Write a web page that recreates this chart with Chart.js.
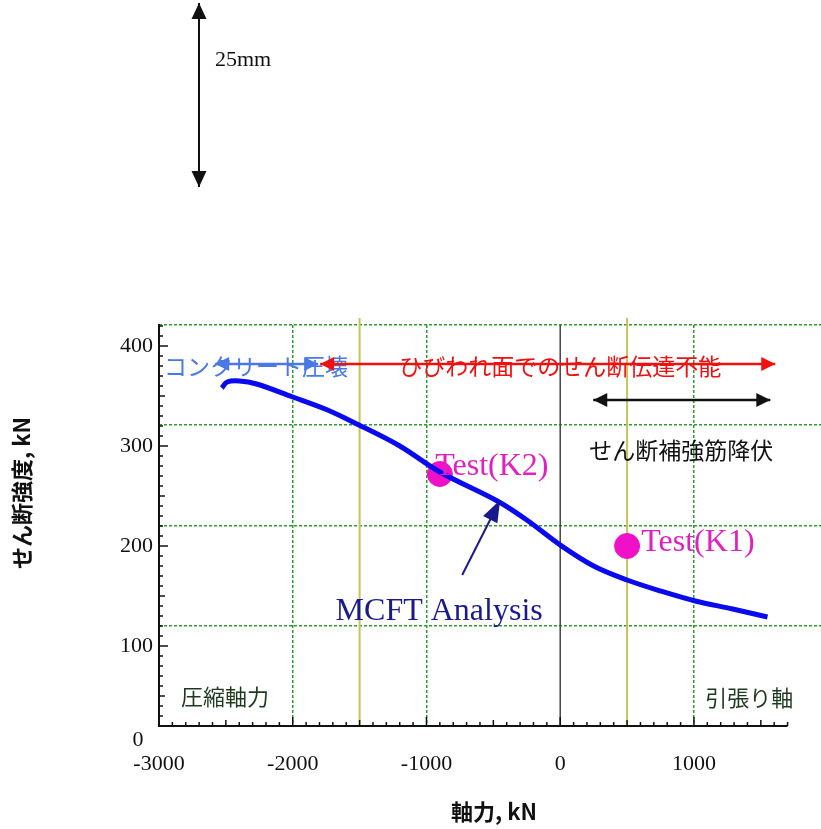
<!DOCTYPE html>
<html>
<head>
<meta charset="utf-8">
<script src="https://cdn.jsdelivr.net/npm/chart.js@4.4.1/dist/chart.umd.min.js"></script>
<style>
  body { margin: 0; background: #fff; overflow: hidden; }
  #wrap { position: relative; width: 821px; height: 829px; }
</style>
</head>
<body>
<div id="wrap"><canvas id="chart"></canvas></div>
<script>
// 解析曲線 (MCFT) : 軸力 kN / せん断強度 kN
const curveX = [-2530, -2490, -2400, -2270, -2000, -1740, -1520, -1200, -900, -470, -250, 0, 250, 500, 750, 1010, 1290, 1550];
const curveY = [358, 364, 365, 362, 349, 336, 322, 300, 274, 245, 226, 201, 180, 166, 155, 145, 137, 129];

// 実験値
const testNames = ["Test(K2)", "Test(K1)"];
const testX = [-900, 500];
const testY = [272, 200];

// 目盛
const xTicks = [-3000, -2000, -1000, 0, 1000];
const yTicks = [100, 200, 300, 400];
const gridX = [-2000, -1000, 1000];
const gridY = [120, 220, 321, 421];
const markX = [-1500, 500];   // 黄色の縦線

const serif = "'Liberation Serif', 'Times New Roman', serif";
const gothic = "'Noto Sans CJK JP', 'Noto Sans', sans-serif";

function arrowHead(ctx, x, y, ang, len, w) {
    ctx.save();
    ctx.translate(x, y);
    ctx.rotate(ang);
    ctx.beginPath();
    ctx.moveTo(0, 0);
    ctx.lineTo(-len, -w / 2);
    ctx.lineTo(-len, w / 2);
    ctx.closePath();
    ctx.fill();
    ctx.restore();
}

function arrow(ctx, x1, y1, x2, y2, color, lw, len, w, both) {
    ctx.save();
    ctx.strokeStyle = color;
    ctx.fillStyle = color;
    ctx.lineWidth = lw;
    ctx.beginPath();
    ctx.moveTo(x1, y1);
    ctx.lineTo(x2, y2);
    ctx.stroke();
    const a = Math.atan2(y2 - y1, x2 - x1);
    arrowHead(ctx, x2, y2, a, len, w);
    if (both) arrowHead(ctx, x1, y1, a + Math.PI, len, w);
    ctx.restore();
}

function text(ctx, s, x, y, font, color, align) {
    ctx.save();
    ctx.font = font;
    ctx.fillStyle = color;
    ctx.textAlign = align || 'center';
    ctx.textBaseline = 'middle';
    ctx.fillText(s, x, y);
    ctx.restore();
}

// 補助線 (黄色・0軸)
const refLines = {
    id: 'refLines',
    beforeDatasetsDraw(chart) {
        const { ctx, chartArea: a, scales: { x } } = chart;
        ctx.save();
        ctx.strokeStyle = '#c9c25a';
        ctx.lineWidth = 2;
        markX.forEach(v => {
            const px = x.getPixelForValue(v);
            ctx.beginPath(); ctx.moveTo(px, a.top - 7); ctx.lineTo(px, a.bottom); ctx.stroke();
        });
        ctx.strokeStyle = '#444';
        ctx.lineWidth = 1.5;
        const p0 = x.getPixelForValue(0);
        ctx.beginPath(); ctx.moveTo(p0, a.top); ctx.lineTo(p0, a.bottom); ctx.stroke();
        ctx.restore();
    }
};

// 軸線・目盛・注記
const notes = {
    id: 'notes',
    afterDatasetsDraw(chart) {
        const { ctx, chartArea: a, scales: { x, y } } = chart;
        const X = v => x.getPixelForValue(v);
        const Y = v => y.getPixelForValue(v);

        // x軸線と目盛
        ctx.save();
        ctx.strokeStyle = '#111';
        ctx.lineWidth = 2;
        ctx.beginPath(); ctx.moveTo(a.left, a.bottom); ctx.lineTo(X(1700), a.bottom); ctx.stroke();
        ctx.lineWidth = 1.5;
        for (let v = -3000; v <= 1700; v += 100) {
            const l = v % 1000 === 0 ? 9 : (v % 500 === 0 ? 6 : 4);
            ctx.beginPath(); ctx.moveTo(X(v), a.bottom); ctx.lineTo(X(v), a.bottom - l); ctx.stroke();
        }
        for (let v = 30; v <= 420; v += 10) {
            const l = v % 100 === 0 ? 9 : (v % 50 === 0 ? 6 : 4);
            ctx.beginPath(); ctx.moveTo(a.left, Y(v)); ctx.lineTo(a.left + l, Y(v)); ctx.stroke();
        }
        ctx.restore();

        text(ctx, '0', a.left - 21, a.bottom + 14, '22px ' + serif, '#111');

        // 範囲の矢印
        arrow(ctx, X(-2580), Y(382), X(-1810), Y(382), '#4a78e6', 2.5, 14, 14, true);
        text(ctx, 'コンクリート圧壊', X(-2274), Y(380), '23px ' + gothic, '#4a78e6');
        arrow(ctx, X(-1795), Y(382), X(1608), Y(382), '#f01010', 2.5, 14, 14, true);
        text(ctx, 'ひびわれ面でのせん断伝達不能', X(0), Y(380), '23px ' + gothic, '#f01010');
        arrow(ctx, X(247), Y(346), X(1571), Y(346), '#111', 2.5, 14, 14, true);
        text(ctx, 'せん断補強筋降伏', X(905), Y(296), '23px ' + gothic, '#111');

        // 実験値ラベル
        text(ctx, testNames[0], X(-935), Y(279), '32px ' + serif, '#e020c0', 'left');
        text(ctx, testNames[1], X(606), Y(203), '32px ' + serif, '#e020c0', 'left');

        // 解析曲線ラベル
        arrow(ctx, X(-733), Y(171), X(-449), Y(246), '#1a1a8c', 2, 22, 16, false);
        text(ctx, 'MCFT Analysis', X(-905), Y(134), '32px ' + serif, '#1a1a8c');

        text(ctx, '圧縮軸力', X(-2506), Y(49), '22px ' + gothic, '#1e3a1e');
        text(ctx, '引張り軸', X(1414), Y(48), '22px ' + gothic, '#1e3a1e');

        // 軸タイトル
        text(ctx, '軸力, kN', 494, 812, 'bold 22px ' + gothic, '#111');
        ctx.save();
        ctx.translate(22, 493);
        ctx.rotate(-Math.PI / 2);
        text(ctx, 'せん断強度, kN', 0, 0, 'bold 22px ' + gothic, '#111');
        ctx.restore();

        // スケールバー
        arrow(ctx, 199, 94, 199, 3, '#111', 2, 16, 15, false);
        arrow(ctx, 199, 94, 199, 187, '#111', 2, 16, 15, false);
        text(ctx, '25mm', 215, 60, '22px ' + serif, '#111', 'left');
    }
};

const green = { color: '#2f9a2f', lineWidth: 1.5 };
const noPad = s => { s.paddingLeft = 0; s.paddingRight = 0; s.paddingTop = 0; s.paddingBottom = 0; };

new Chart(document.getElementById('chart'), {
    type: 'scatter',
    data: {
        datasets: [{
            data: curveX.map((v, i) => ({ x: v, y: curveY[i] })),
            showLine: true,
            borderColor: '#0a0aee',
            borderWidth: 5,
            pointRadius: 0,
            tension: 0.35,
            fill: false
        }, {
            data: testX.map((v, i) => ({ x: v, y: testY[i] })),
            backgroundColor: '#f010c8',
            borderColor: '#f010c8',
            pointRadius: 12.5,
            pointHoverRadius: 12.5
        }]
    },
    options: {
        responsive: true,
        maintainAspectRatio: false,
        animation: false,
        events: [],
        layout: { autoPadding: false, padding: { top: 325, right: 0, bottom: 0, left: 0 } },
        plugins: { legend: { display: false }, tooltip: { enabled: false } },
        scales: {
            x: {
                type: 'linear', min: -3000, max: 1950,
                afterBuildTicks: s => { s.ticks = xTicks.map(v => ({ value: v })); },
                afterFit: s => { s.height = 103; noPad(s); },
                grid: { display: false, drawTicks: false },
                border: { display: false },
                ticks: { color: '#111', font: { family: serif, size: 22 }, padding: 25, maxRotation: 0, callback: v => String(v) }
            },
            y: {
                type: 'linear', min: 20, max: 421,
                afterBuildTicks: s => { s.ticks = yTicks.map(v => ({ value: v })); },
                afterFit: s => { s.width = 159; noPad(s); },
                grid: { display: false, drawTicks: false },
                border: { display: true, color: '#111', width: 2 },
                ticks: { color: '#111', font: { family: serif, size: 22 }, padding: 6, callback: v => String(v) }
            },
            gx: {
                type: 'linear', position: 'top', min: -3000, max: 1950,
                afterBuildTicks: s => { s.ticks = gridX.map(v => ({ value: v })); },
                afterFit: s => { s.height = 0; noPad(s); },
                grid: { ...green, drawTicks: false },
                border: { display: false, dash: [3, 2] },
                ticks: { display: false }
            },
            gy: {
                type: 'linear', position: 'right', min: 20, max: 421,
                afterBuildTicks: s => { s.ticks = gridY.map(v => ({ value: v })); },
                afterFit: s => { s.width = 0; noPad(s); },
                grid: { ...green, drawTicks: false },
                border: { display: false, dash: [3, 2] },
                ticks: { display: false }
            }
        }
    },
    plugins: [refLines, notes]
});
</script>
</body>
</html>
